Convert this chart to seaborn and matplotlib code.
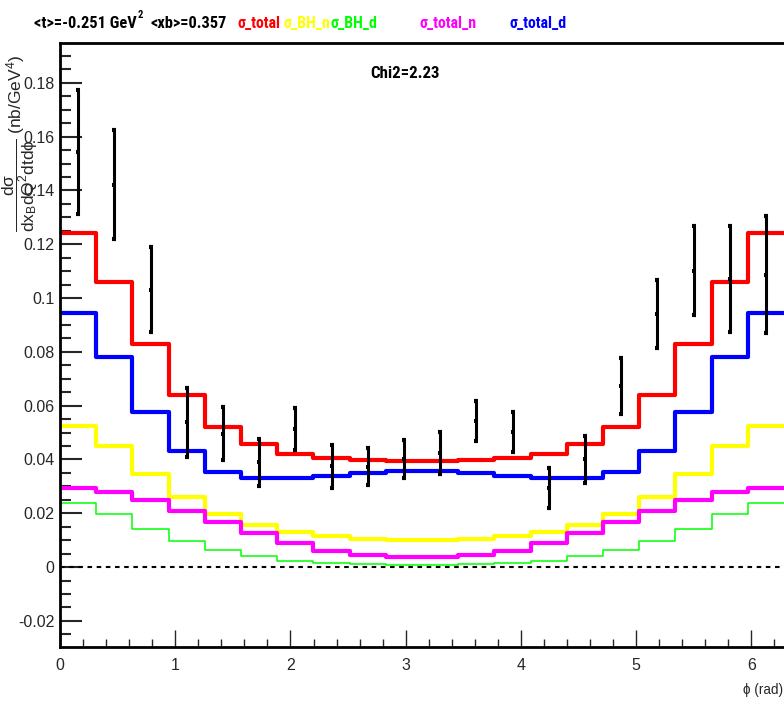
import os
import numpy as np
import pandas as pd
import matplotlib
matplotlib.use("Agg")
import matplotlib.pyplot as plt
from matplotlib import font_manager as fm
from matplotlib.font_manager import FontProperties
from matplotlib.ticker import MultipleLocator, FixedLocator, FixedFormatter
import seaborn as sns

# ---------------- data ----------------
n_bins = 20
sigma_total = [0.1240, 0.1059, 0.0829, 0.0640, 0.0522, 0.0456, 0.0419, 0.0404, 0.0398, 0.0395,
               0.0395, 0.0398, 0.0404, 0.0419, 0.0456, 0.0522, 0.0640, 0.0829, 0.1059, 0.1240]
sigma_total_d = [0.0944, 0.0780, 0.0577, 0.0432, 0.0354, 0.0330, 0.0330, 0.0338, 0.0351, 0.0357,
                 0.0357, 0.0351, 0.0338, 0.0330, 0.0330, 0.0354, 0.0432, 0.0577, 0.0780, 0.0944]
sigma_BH_n = [0.0524, 0.0449, 0.0347, 0.0261, 0.0198, 0.0157, 0.0130, 0.0116, 0.0104, 0.0099,
              0.0099, 0.0104, 0.0116, 0.0130, 0.0157, 0.0198, 0.0261, 0.0347, 0.0449, 0.0524]
sigma_total_n = [0.0294, 0.0278, 0.0249, 0.0208, 0.0166, 0.0125, 0.0089, 0.0061, 0.0045, 0.0037,
                 0.0037, 0.0045, 0.0061, 0.0089, 0.0125, 0.0166, 0.0208, 0.0249, 0.0278, 0.0294]
sigma_BH_d = [0.0237, 0.0197, 0.0142, 0.0097, 0.0062, 0.0040, 0.0024, 0.0015, 0.0010, 0.0006,
              0.0006, 0.0010, 0.0015, 0.0024, 0.0040, 0.0062, 0.0097, 0.0142, 0.0197, 0.0237]
data_vals = [0.1543, 0.1421, 0.1030, 0.0539, 0.0496, 0.0390, 0.0513, 0.0375, 0.0373, 0.0401,
             0.0424, 0.0543, 0.0502, 0.0293, 0.0400, 0.0673, 0.0940, 0.1102, 0.1070, 0.1087]
data_errs = [0.0229, 0.0203, 0.0158, 0.0128, 0.0098, 0.0087, 0.0078, 0.0080, 0.0069, 0.0071,
             0.0078, 0.0074, 0.0076, 0.0075, 0.0089, 0.0105, 0.0126, 0.0164, 0.0196, 0.0218]
ytick_vals = [-0.02, 0, 0.02, 0.04, 0.06, 0.08, 0.1, 0.12, 0.14, 0.16, 0.18]
ytick_labels = ["-0.02", "0", "0.02", "0.04", "0.06", "0.08", "0.1", "0.12", "0.14", "0.16", "0.18"]
xtick_vals = [0, 1, 2, 3, 4, 5, 6]
xtick_labels = ["0", "1", "2", "3", "4", "5", "6"]

header_t = "<t>=-0.251 GeV"
header_sup = "2"
header_xb = "<xb>=0.357"
legend_labels = ["σ_total", "σ_BH_n", "σ_BH_d", "σ_total_n", "σ_total_d"]
legend_colors = ["#ff0000", "#ffff00", "#00ff00", "#ff00ff", "#0000ff"]
chi2_text = "Chi2=2.23"
xlabel_text = "ϕ (rad)"

# ---------------- fonts ----------------
sns.set_style("white")
BASE = ["Liberation Sans", "DejaVu Sans"]
plt.rcParams["font.family"] = BASE
plt.rcParams["mathtext.fontset"] = "custom"
plt.rcParams["mathtext.rm"] = "Liberation Sans"
plt.rcParams["mathtext.it"] = "Liberation Sans"
plt.rcParams["mathtext.bf"] = "Liberation Sans:bold"
plt.rcParams["mathtext.default"] = "regular"


def find_narrow(bold):
    files = [f.fname for f in fm.fontManager.ttflist]
    prefs = ["liberationsansnarrow", "arialnarrow", "robotocondensed", "dejavusanscondensed"]
    for p in prefs:
        for fn in files:
            b = os.path.basename(fn).lower().replace("-", "").replace("_", "")
            if p in b and "italic" not in b and "oblique" not in b and "light" not in b \
                    and "semi" not in b and "extra" not in b and "medium" not in b:
                if ("bold" in b) == bold:
                    return fn
    return None


nr = find_narrow(False)
nb = find_narrow(True)
FP_REG = FontProperties(fname=nr) if nr else FontProperties(family=BASE)
FP_BOLD = FontProperties(fname=nb) if nb else FontProperties(family=BASE, weight="bold")

W, H = 784, 706
fig = plt.figure(figsize=(W / 100, H / 100), dpi=100)
ax = fig.add_axes([60 / W, 1 - 647 / H, 724 / W, (647 - 43) / H])

edges = np.linspace(0, 2 * np.pi, n_bins + 1)
centers = 0.5 * (edges[:-1] + edges[1:])


def step_frame(vals):
    return pd.DataFrame({"phi": edges, "val": list(vals) + [vals[-1]]})


series = [
    (sigma_BH_n, "#ffff00", 3.0),
    (sigma_total_n, "#ff00ff", 3.0),
    (sigma_BH_d, "#00ff00", 1.1),
    (sigma_total_d, "#0000ff", 3.0),
    (sigma_total, "#ff0000", 3.0),
]
for vals, col, lw in series:
    sns.lineplot(data=step_frame(vals), x="phi", y="val", ax=ax, color=col, lw=lw,
                 drawstyle="steps-post", estimator=None, sort=False, legend=False)

ax.axhline(0, color="k", lw=1.5, ls=(0, (2.2, 2.2)), zorder=1)

ax.errorbar(centers, data_vals, yerr=data_errs, fmt="none", ecolor="k",
            elinewidth=2.2, capsize=1.6, capthick=3, zorder=5)
sns.scatterplot(x=centers, y=data_vals, ax=ax, marker="s", s=9, color="k",
                edgecolor="k", linewidth=0, zorder=6, legend=False)

ax.set_xlim(0, 2 * np.pi)
ax.set_ylim(-0.0297, 0.1948)

ax.yaxis.set_major_locator(FixedLocator(ytick_vals))
ax.yaxis.set_major_formatter(FixedFormatter(ytick_labels))
ax.yaxis.set_minor_locator(MultipleLocator(0.005))
ax.xaxis.set_major_locator(FixedLocator(xtick_vals))
ax.xaxis.set_major_formatter(FixedFormatter(xtick_labels))
ax.xaxis.set_minor_locator(MultipleLocator(0.2))

tick_size = 11.5
ax.tick_params(axis="y", which="major", direction="in", length=16, width=1.5,
               labelsize=tick_size, pad=4, left=True, right=False)
ax.tick_params(axis="y", which="minor", direction="in", length=8, width=1.5, left=True, right=False)
ax.tick_params(axis="x", which="major", direction="in", length=12, width=1.0,
               labelsize=tick_size, pad=8, bottom=True, top=False)
ax.tick_params(axis="x", which="minor", direction="in", length=6, width=1.0, bottom=True, top=False)

for s in ["left", "bottom", "top"]:
    ax.spines[s].set_color("k")
    ax.spines[s].set_linewidth(2)
ax.spines["right"].set_visible(False)

ax.set_xlabel("")
ax.set_ylabel("")

renderer = fig.canvas.get_renderer()


def fit_width(t, target_px):
    for _ in range(3):
        bb = t.get_window_extent(renderer)
        if bb.width > 0:
            t.set_fontsize(t.get_fontsize() * target_px / bb.width)
    return t


def width_px(t):
    return t.get_window_extent(renderer).width


def put(x_px, y_px, s, fp, color="k", ha="left", **kw):
    t = fig.text(x_px / W, 1 - y_px / H, s, ha=ha, va="center", color=color,
                 fontproperties=fp.copy(), **kw)
    return t


# axis titles
tx = fig.text(783 / W, 1 - 690 / H, xlabel_text, ha="right", va="center",
              fontsize=11, family=BASE)
fit_width(tx, 40)

fig.text(20 / W, 1 - 143 / H,
         r"$\dfrac{d\sigma}{dx_{B}dQ^{2}dtd\phi}$ (nb/GeV$^{4}$)",
         rotation=90, ha="center", va="center", fontsize=12.5,
         family=["Liberation Sans", "DejaVu Sans"])

# header
t1 = put(34, 23, header_t, FP_BOLD)
t1.set_fontsize(10)
fit_width(t1, 103)
x = 34 + width_px(t1) + 1
t2 = put(x, 15, header_sup, FP_BOLD)
t2.set_fontsize(t1.get_fontsize() * 0.65)
x += width_px(t2) + 7
t3 = put(x, 23, header_xb, FP_BOLD)
t3.set_fontsize(t1.get_fontsize())
hdr_size = t1.get_fontsize()

x = 237
for i, (lbl, col) in enumerate(zip(legend_labels[:3], legend_colors[:3])):
    t = put(x, 23, lbl, FP_BOLD, color=col)
    t.set_fontsize(hdr_size * 0.97)
    x += width_px(t) + (4 if i == 0 else 0)
for lbl, col, xs in zip(legend_labels[3:], legend_colors[3:], [420, 510]):
    t = put(xs, 23, lbl, FP_BOLD, color=col)
    t.set_fontsize(hdr_size * 0.97)

tc = put(404.5, 73, chi2_text, FP_BOLD, ha="center")
tc.set_fontsize(10)
fit_width(tc, 70)

fig.savefig("out.png", dpi=100)
